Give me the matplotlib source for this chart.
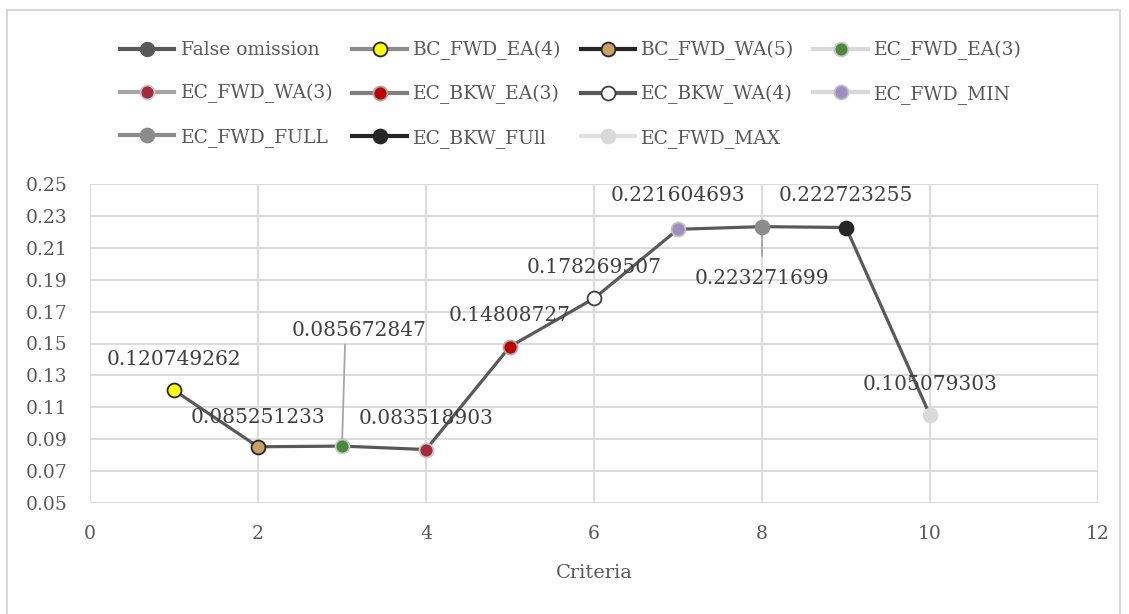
import matplotlib.pyplot as plt
from matplotlib.lines import Line2D
from matplotlib.patches import Rectangle

# data
criteria = [1, 2, 3, 4, 5, 6, 7, 8, 9, 10]
false_omission = [0.120749262, 0.085251233, 0.085672847, 0.083518903, 0.14808727,
                  0.178269507, 0.221604693, 0.223271699, 0.222723255, 0.105079303]
labels = ['0.120749262', '0.085251233', '0.085672847', '0.083518903', '0.14808727',
          '0.178269507', '0.221604693', '0.223271699', '0.222723255', '0.105079303']
names = ['BC_FWD_EA(4)', 'BC_FWD_WA(5)', 'EC_FWD_EA(3)', 'EC_FWD_WA(3)', 'EC_BKW_EA(3)',
         'EC_BKW_WA(4)', 'EC_FWD_MIN', 'EC_FWD_FULL', 'EC_BKW_FUll', 'EC_FWD_MAX']

# per-point styling (face, edge, legend line colour)
face = ['#ffff00', '#c8a064', '#4a8a3a', '#a52a3a', '#c00000',
        '#ffffff', '#a08cbf', '#8c8c8c', '#262626', '#d9d9d9']
edge = ['#262626', '#262626', '#c8c8c8', '#c8c8c8', '#a6a6a6',
        '#404040', '#c0c0c0', '#8c8c8c', '#262626', '#d9d9d9']
legline = ['#8c8c8c', '#262626', '#d9d9d9', '#a6a6a6', '#7f7f7f',
           '#595959', '#d9d9d9', '#8c8c8c', '#262626', '#e0e0e0']
# label offsets in points (dx, dy)
offs = [(0, 22), (0, 21), (12, 83), (0, 22), (0, 22),
        (0, 22), (0, 24), (0, -37), (0, 23), (0, 22)]

plt.rcParams['font.family'] = 'DejaVu Serif'
txt = '#595959'

fig = plt.figure(figsize=(11.29, 6.14), dpi=100)
fig.patches.append(Rectangle((7/1129, -0.1), (1120-7)/1129, 1.1 - 10/614,
                             transform=fig.transFigure, fill=False,
                             edgecolor='#d9d9d9', lw=1.5))
ax = fig.add_axes([90/1129, 1-503/614, (1098-90)/1129, (503-184)/614])

ax.plot(criteria, false_omission, color='#595959', lw=2.3, zorder=3)
for i in range(len(criteria)):
    ax.plot(criteria[i], false_omission[i], 'o', ms=10, mfc=face[i], mec=edge[i],
            mew=1.3, zorder=4)
    dx, dy = offs[i]
    if i == 2:
        ax.annotate(labels[i], (criteria[i], false_omission[i]), xytext=(dx, dy),
                    textcoords='offset points', ha='center', va='center',
                    fontsize=14.5, color='#404040',
                    arrowprops=dict(arrowstyle='-', color='#a6a6a6', lw=1.3,
                                    relpos=(0.4, 0), shrinkA=1, shrinkB=5))
    elif i == 7:
        ax.annotate(labels[i], (criteria[i], false_omission[i]), xytext=(dx, dy),
                    textcoords='offset points', ha='center', va='center',
                    fontsize=14.5, color='#404040',
                    arrowprops=dict(arrowstyle='-', color='#a6a6a6', lw=1.3,
                                    relpos=(0.5, 1), shrinkA=7, shrinkB=0))
    else:
        ax.annotate(labels[i], (criteria[i], false_omission[i]), xytext=(dx, dy),
                    textcoords='offset points', ha='center', va='center',
                    fontsize=14.5, color='#404040')

ax.set_xlim(0, 12)
ax.set_ylim(0.05, 0.25)
ax.set_xticks(range(0, 13, 2))
ax.set_yticks([0.05 + 0.02 * k for k in range(11)])
ax.set_yticklabels(['%.2f' % (0.05 + 0.02 * k) for k in range(11)])
ax.grid(True, color='#d9d9d9', lw=1.3)
ax.set_axisbelow(True)
for s in ax.spines.values():
    s.set_visible(False)
ax.tick_params(length=0, labelsize=13.5, colors=txt)
ax.tick_params(axis='x', pad=16)
ax.tick_params(axis='y', pad=16)
ax.set_xlabel('Criteria', fontsize=14, color=txt, labelpad=15)

# legend
handles = [Line2D([], [], color='#595959', lw=3, marker='o', ms=10,
                  mfc='#595959', mec='#595959')]
for i in range(len(names)):
    handles.append(Line2D([], [], color=legline[i], lw=3, marker='o', ms=10,
                          mfc=face[i], mec=edge[i], mew=1.3))
leg_labels = ['False omission'] + names
order = [0, 4, 8, 1, 5, 9, 2, 6, 10, 3, 7]
fig.legend([handles[k] for k in order], [leg_labels[k] for k in order],
           ncol=4, loc='upper left', bbox_to_anchor=(120/1129, 1-41/614),
           frameon=False, fontsize=13.5, labelcolor=txt, handlelength=2.9,
           handletextpad=0.35, columnspacing=1.0, labelspacing=1.32,
           borderaxespad=0, borderpad=0)

fig.savefig('out.png', dpi=100)
